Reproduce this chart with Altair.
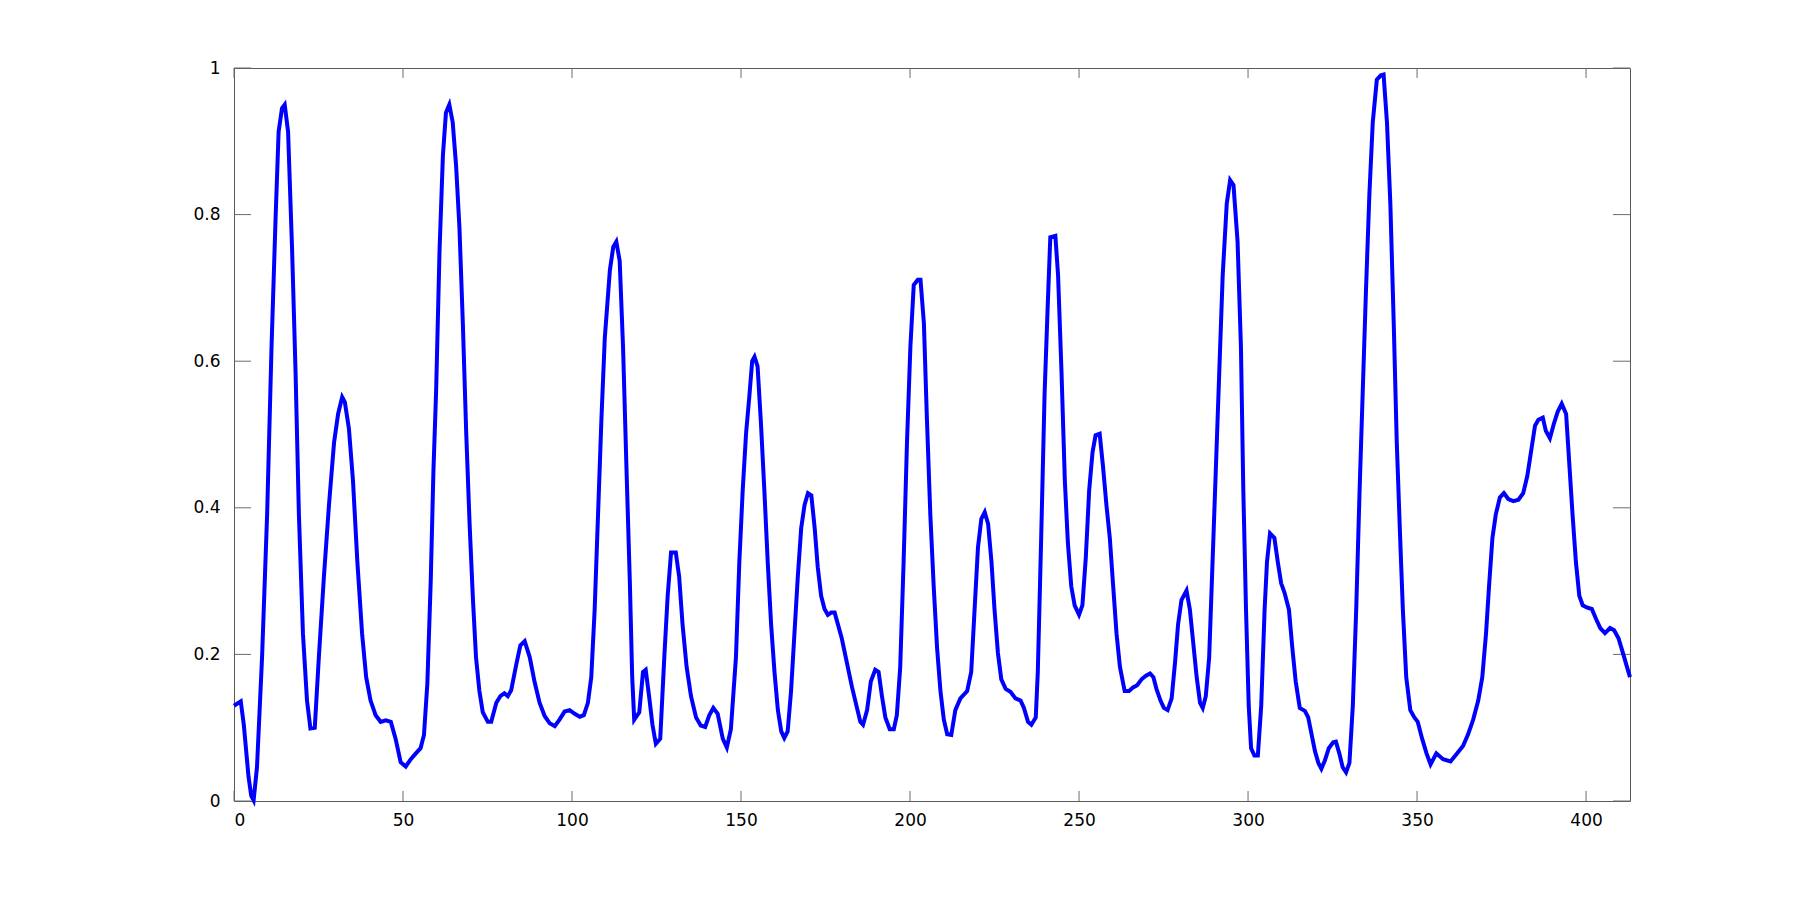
import altair as alt
import pandas as pd

xs = [0, 2, 2.9, 4.3, 5.1, 5.8, 6.8, 8.3, 9.8, 11.1, 12.3, 13.2, 14.2, 15.0, 16.0, 17.2, 18.2, 19.2, 20.4, 21.6,
      22.6, 23.9, 25.1, 26.6, 28.1, 29.6, 30.8, 32.0, 32.8, 34.0, 35.2, 36.5, 37.9, 39.1, 40.4, 41.9, 43.4, 44.9,
      46.4, 47.8, 49.3, 50.8, 52.3, 53.8, 55.2, 56.2, 57.2, 58.2, 59.0, 59.8, 60.8, 61.8, 62.7, 63.7, 64.7, 65.7,
      66.7, 67.7, 68.7, 69.7, 70.7, 71.6, 72.6, 73.6, 75.1, 76.1, 77.6, 78.8, 80.0, 81.0, 82.0, 83.5, 84.7, 86.0,
      87.5, 88.9, 90.4, 91.9, 93.4, 94.9, 96.3, 97.8, 99.3, 100.8, 102.3, 103.5, 104.7, 105.7, 106.7, 107.7, 108.7,
      109.7, 111.2, 112.2, 113.1, 114.1, 115.1, 116.1, 117.1, 117.8, 118.4, 119.9, 121.0, 121.8, 122.8, 123.8,
      124.8, 126.1, 127.3, 128.3, 129.3, 130.7, 131.7, 132.7, 133.9, 135.2, 136.7, 138.1, 139.4, 140.6, 141.8,
      143.1, 144.6, 145.8, 147.0, 148.5, 149.5, 150.5, 151.5, 152.5, 153.3, 154.0, 154.9, 155.9, 156.9, 157.9,
      158.9, 159.9, 160.9, 161.9, 162.8, 163.8, 164.8, 165.8, 166.8, 167.8, 168.8, 169.8, 170.8, 171.8, 172.7,
      173.7, 174.7, 175.7, 176.7, 177.7, 179.8, 181.3, 182.8, 184.3, 185.3, 186.1, 187.3, 188.4, 189.7, 190.7,
      191.7, 192.7, 194.0, 195.2, 196.1, 197.1, 198.1, 199.1, 200.1, 201.1, 202.3, 203.1, 204.1, 205.0, 206.0,
      207.0, 208.0, 209.0, 210.0, 211.0, 212.2, 213.4, 214.9, 216.9, 218.1, 219.1, 220.1, 221.1, 222.1, 223.1,
      224.1, 225.0, 226.0, 227.0, 228.3, 229.7, 231.2, 232.7, 233.7, 234.9, 235.9, 237.2, 237.8, 238.8, 239.8,
      240.8, 241.5, 243.0, 243.8, 244.8, 245.8, 246.7, 247.7, 248.7, 250.0, 251.0, 252.0, 253.0, 254.0, 254.9,
      256.1, 257.1, 258.1, 259.1, 260.1, 261.1, 262.1, 263.5, 264.8, 266.0, 267.2, 268.5, 269.8, 271.0, 272.0,
      272.9, 274.1, 275.1, 276.2, 277.4, 278.4, 279.3, 280.3, 281.8, 282.8, 283.8, 284.8, 285.8, 286.6, 287.5,
      288.5, 289.5, 290.5, 291.5, 292.5, 293.7, 294.7, 295.7, 296.9, 297.9, 298.6, 299.4, 300.2, 300.9, 301.9,
      302.9, 303.9, 304.9, 305.6, 306.5, 307.8, 308.8, 309.8, 310.8, 312.1, 313.1, 314.1, 315.3, 316.8, 317.8,
      318.8, 319.8, 320.8, 321.7, 322.7, 323.9, 325.2, 326.0, 327.0, 328.0, 329.0, 330.0, 331.0, 332.0, 333.0,
      333.9, 334.9, 335.9, 336.9, 338.1, 339.3, 340.1, 341.1, 342.1, 343.1, 344.0, 345.0, 345.8, 346.8, 348.0,
      349.2, 350.2, 351.5, 352.8, 354.0, 355.7, 357.7, 359.9, 361.7, 363.6, 365.1, 366.6, 368.1, 369.3, 370.4,
      371.3, 372.3, 373.3, 374.5, 375.7, 377.0, 378.5, 380.0, 381.4, 382.6, 383.9, 384.9, 385.9, 387.2, 388.1,
      389.3, 390.5, 391.6, 392.8, 394.1, 395.1, 396.0, 397.0, 398.0, 399.0, 400.2, 401.7, 403.0, 404.2, 405.6,
      407.1, 408.3, 409.6, 410.9, 412.1, 413.0]

ys = [0.130, 0.136, 0.104, 0.033, 0.007, 0.001, 0.046, 0.196, 0.391, 0.619, 0.795, 0.913, 0.945, 0.950, 0.913,
      0.750, 0.587, 0.391, 0.228, 0.137, 0.099, 0.100, 0.196, 0.306, 0.404, 0.489, 0.528, 0.551, 0.544, 0.508,
      0.437, 0.326, 0.228, 0.169, 0.137, 0.117, 0.108, 0.110, 0.108, 0.085, 0.053, 0.047, 0.057, 0.065, 0.072,
      0.090, 0.160, 0.300, 0.450, 0.560, 0.750, 0.880, 0.939, 0.950, 0.926, 0.867, 0.782, 0.652, 0.502, 0.378,
      0.274, 0.196, 0.150, 0.121, 0.108, 0.108, 0.134, 0.143, 0.147, 0.143, 0.151, 0.186, 0.212, 0.218, 0.196,
      0.163, 0.134, 0.116, 0.106, 0.102, 0.111, 0.122, 0.124, 0.119, 0.115, 0.117, 0.134, 0.169, 0.261, 0.391,
      0.521, 0.632, 0.724, 0.756, 0.763, 0.737, 0.619, 0.456, 0.300, 0.170, 0.111, 0.121, 0.176, 0.179, 0.143,
      0.104, 0.078, 0.085, 0.196, 0.280, 0.339, 0.339, 0.306, 0.241, 0.183, 0.143, 0.114, 0.103, 0.101, 0.117,
      0.127, 0.119, 0.085, 0.073, 0.098, 0.196, 0.326, 0.424, 0.502, 0.554, 0.600, 0.606, 0.593, 0.515, 0.424,
      0.326, 0.241, 0.176, 0.124, 0.095, 0.086, 0.095, 0.150, 0.228, 0.306, 0.372, 0.404, 0.420, 0.417, 0.372,
      0.319, 0.280, 0.262, 0.254, 0.257, 0.257, 0.222, 0.189, 0.156, 0.127, 0.108, 0.104, 0.124, 0.163, 0.179,
      0.176, 0.143, 0.114, 0.098, 0.098, 0.117, 0.183, 0.326, 0.489, 0.619, 0.704, 0.711, 0.711, 0.652, 0.521,
      0.391, 0.293, 0.209, 0.150, 0.111, 0.091, 0.090, 0.124, 0.140, 0.150, 0.176, 0.261, 0.346, 0.385, 0.394,
      0.378, 0.326, 0.261, 0.202, 0.166, 0.153, 0.149, 0.140, 0.137, 0.127, 0.108, 0.104, 0.114, 0.176, 0.359,
      0.554, 0.684, 0.769, 0.771, 0.717, 0.587, 0.437, 0.352, 0.293, 0.267, 0.254, 0.267, 0.332, 0.424, 0.476,
      0.499, 0.501, 0.456, 0.404, 0.359, 0.293, 0.228, 0.183, 0.150, 0.150, 0.155, 0.158, 0.166, 0.171, 0.174,
      0.169, 0.153, 0.137, 0.127, 0.124, 0.140, 0.189, 0.241, 0.274, 0.287, 0.261, 0.215, 0.169, 0.134, 0.127,
      0.143, 0.196, 0.326, 0.456, 0.587, 0.717, 0.815, 0.847, 0.840, 0.763, 0.619, 0.424, 0.261, 0.130, 0.072,
      0.062, 0.062, 0.130, 0.261, 0.326, 0.365, 0.359, 0.326, 0.297, 0.284, 0.261, 0.209, 0.163, 0.127, 0.123,
      0.114, 0.091, 0.068, 0.052, 0.044, 0.055, 0.072, 0.080, 0.081, 0.065, 0.046, 0.039, 0.052, 0.130, 0.261,
      0.424, 0.554, 0.698, 0.828, 0.926, 0.984, 0.990, 0.991, 0.926, 0.815, 0.652, 0.489, 0.359, 0.261, 0.169,
      0.124, 0.114, 0.108, 0.085, 0.065, 0.050, 0.065, 0.057, 0.054, 0.064, 0.075, 0.091, 0.111, 0.137, 0.169,
      0.228, 0.293, 0.359, 0.391, 0.414, 0.420, 0.412, 0.409, 0.411, 0.420, 0.443, 0.482, 0.512, 0.520, 0.523,
      0.505, 0.495, 0.515, 0.531, 0.542, 0.528, 0.456, 0.391, 0.326, 0.280, 0.267, 0.264, 0.262, 0.248, 0.236,
      0.229, 0.236, 0.233, 0.222, 0.202, 0.183, 0.169]

x_ticks = [0, 50, 100, 150, 200, 250, 300, 350, 400]
y_ticks = [0, 0.2, 0.4, 0.6, 0.8, 1]

W, H = 1396, 733
FONT = "DejaVu Sans"
FS = 17
TICK_COLOR = "#6b6b6b"

df = pd.DataFrame({"x": xs, "y": ys})
dfx = pd.DataFrame({"x": x_ticks})
dfy = pd.DataFrame({"y": y_ticks})

xscale = alt.Scale(domain=[0, 413], nice=False, zero=False)
yscale = alt.Scale(domain=[0, 1], nice=False)

x_axis = alt.Axis(values=x_ticks, title=None, ticks=False, domain=False, grid=False,
                  labelFont=FONT, labelFontSize=FS, labelColor="black", labelPadding=11,
                  format="d")
y_axis = alt.Axis(values=y_ticks, title=None, ticks=False, domain=False, grid=False,
                  labelFont=FONT, labelFontSize=FS, labelColor="black", labelPadding=14,
                  labelExpr="datum.value == 0 ? '0' : datum.value == 1 ? '1' : format(datum.value, '.1f')")

line = alt.Chart(df).mark_line(color="#0000ff", strokeWidth=4, interpolate="linear").encode(
    x=alt.X("x:Q", scale=xscale, axis=x_axis),
    y=alt.Y("y:Q", scale=yscale, axis=y_axis),
)

xt_bottom = alt.Chart(dfx).mark_rule(color=TICK_COLOR, strokeWidth=1).encode(
    x=alt.X("x:Q", scale=xscale, axis=x_axis), y=alt.value(H), y2=alt.value(H - 10))
xt_top = alt.Chart(dfx).mark_rule(color=TICK_COLOR, strokeWidth=1).encode(
    x=alt.X("x:Q", scale=xscale, axis=x_axis), y=alt.value(0), y2=alt.value(10))
yt_left = alt.Chart(dfy).mark_rule(color=TICK_COLOR, strokeWidth=1).encode(
    y=alt.Y("y:Q", scale=yscale, axis=y_axis), x=alt.value(0), x2=alt.value(17))
yt_right = alt.Chart(dfy).mark_rule(color=TICK_COLOR, strokeWidth=1).encode(
    y=alt.Y("y:Q", scale=yscale, axis=y_axis), x=alt.value(W), x2=alt.value(W - 17))

chart = alt.layer(xt_bottom, xt_top, yt_left, yt_right, line).properties(
    width=W, height=H,
    padding={"left": 226, "top": 60, "right": 150, "bottom": 80},
    autosize=alt.AutoSizeParams(type="none"),
    background="white",
).configure_view(stroke="#5a5a5a", strokeWidth=1)

chart.save("out.html", embed_options={"renderer": "svg", "actions": False})
